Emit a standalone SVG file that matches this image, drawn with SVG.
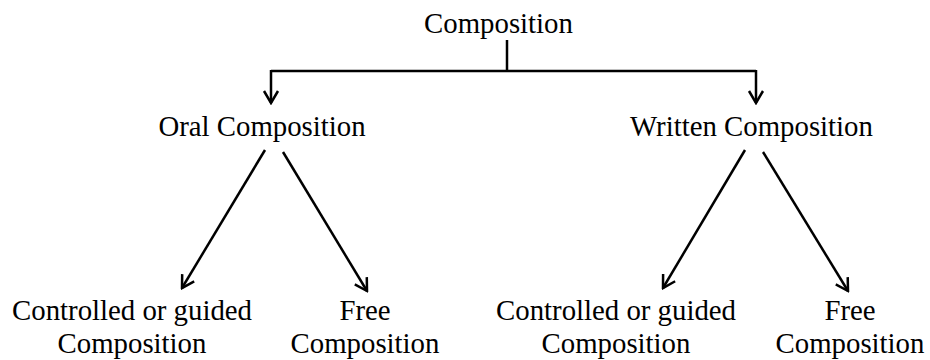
<svg xmlns="http://www.w3.org/2000/svg" width="930" height="360" viewBox="0 0 930 360">
<style>
text{font-size:28.8px;fill:#000;text-anchor:middle}
.c{fill:none;stroke:#000;stroke-width:2.5}
</style>
<defs>
<marker id="ah" markerUnits="userSpaceOnUse" viewBox="-14 -9 16 18" refX="0" refY="0" markerWidth="16" markerHeight="18" orient="auto">
<path d="M-12,-7 L0,0 L-12,7" fill="none" stroke="#000" stroke-width="2.5"/>
</marker>
</defs>
<rect width="930" height="360" fill="#fff"/>
<g id="connectors">
<path class="c" d="M507,40 V71"/>
<path class="c" d="M271,71 H756"/>
<path class="c" d="M756,70 V103" marker-end="url(#ah)"/>
<path class="c" d="M271,70 V103" marker-end="url(#ah)"/>
<path class="c" d="M265,150 L182,288" marker-end="url(#ah)"/>
<path class="c" d="M283,152 L367,291" marker-end="url(#ah)"/>
<path class="c" d="M745,150 L663,288" marker-end="url(#ah)"/>
<path class="c" d="M763,152 L848,291" marker-end="url(#ah)"/>
</g>
<g font-family="'Liberation Serif', 'Times New Roman', Times, serif">
<g id="root"><text x="498.5" y="33">Composition</text></g>
<g id="oral"><text x="262" y="136">Oral Composition</text></g>
<g id="written"><text x="751.5" y="136">Written Composition</text></g>
<g id="oral-controlled"><text x="132" y="320">Controlled or guided</text><text x="132" y="353">Composition</text></g>
<g id="oral-free"><text x="365" y="320">Free</text><text x="365" y="353">Composition</text></g>
<g id="written-controlled"><text x="616" y="320">Controlled or guided</text><text x="616" y="353">Composition</text></g>
<g id="written-free"><text x="850" y="320">Free</text><text x="850" y="353">Composition</text></g>
</g>
</svg>
